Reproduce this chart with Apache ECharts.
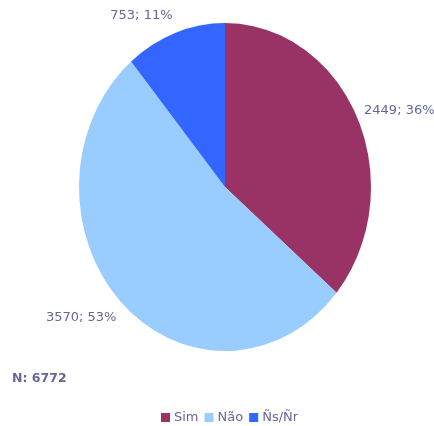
<!DOCTYPE html>
<html>
<head>
<meta charset="utf-8">
<script src="https://cdn.jsdelivr.net/npm/echarts@6/dist/echarts.min.js"></script>
<style>
html,body{margin:0;padding:0;background:#fff;}
#chart{width:434px;height:426px;}
</style>
</head>
<body>
<div id="chart"></div>
<script>
const categories = ['Sim', 'Não', 'Ñs/Ñr'];
const values = [2449, 3570, 753];
const colors = ['#993366', '#99CCFF', '#3366FF'];
const titlePrefix = 'N: ';

const total = values.reduce((a, b) => a + b, 0);
const starts = [];
let acc = 0;
values.forEach(v => { starts.push(acc); acc += v; });

const CX = 225, CY = 187, RX = 146, RY = 164;
const KX = 1.05, KY = 1.12, DY = 1;
const textColor = '#666699';
const FONT = 'DejaVu Sans';

function renderSlice(params, api) {
  const start = api.value(0);
  const val = api.value(1);
  const a0 = start / total * Math.PI * 2;
  const a1 = (start + val) / total * Math.PI * 2;
  const mid = (a0 + a1) / 2;
  const s = Math.sin(mid), c = Math.cos(mid);
  const pct = Math.round(val / total * 100);
  return {
    type: 'group',
    children: [
      {
        type: 'sector',
        x: CX, y: CY,
        scaleX: 1, scaleY: RY / RX,
        shape: { cx: 0, cy: 0, r: RX, r0: 0, startAngle: a0 - Math.PI / 2, endAngle: a1 - Math.PI / 2, clockwise: true },
        style: { fill: api.visual('color') }
      },
      {
        type: 'text',
        x: CX + RX * KX * s,
        y: CY - RY * KY * c + DY,
        style: {
          text: val + '; ' + pct + '%',
          fill: textColor,
          fontSize: 13,
          fontFamily: FONT,
          align: s >= 0 ? 'left' : 'right',
          verticalAlign: 'middle'
        }
      }
    ]
  };
}

const series = categories.map((name, i) => ({
  type: 'custom',
  name: name,
  coordinateSystem: 'none',
  renderItem: renderSlice,
  itemStyle: { color: colors[i] },
  data: [[starts[i], values[i]]],
  animation: false
}));

const chart = echarts.init(document.getElementById('chart'), null, { renderer: 'canvas' });
chart.setOption({
  backgroundColor: '#ffffff',
  animation: false,
  title: {
    text: titlePrefix + total,
    left: 7,
    top: 367,
    textStyle: { fontFamily: FONT, fontSize: 12.5, fontWeight: 'bold', color: textColor }
  },
  legend: {
    data: categories,
    left: 161,
    top: 411,
    padding: 0,
    itemWidth: 9,
    itemHeight: 9,
    itemGap: 6,
    icon: 'rect',
    textStyle: { fontFamily: FONT, fontSize: 13, color: textColor, padding: [0, 0, 0, -1] }
  },
  series: series
});
</script>
</body>
</html>
